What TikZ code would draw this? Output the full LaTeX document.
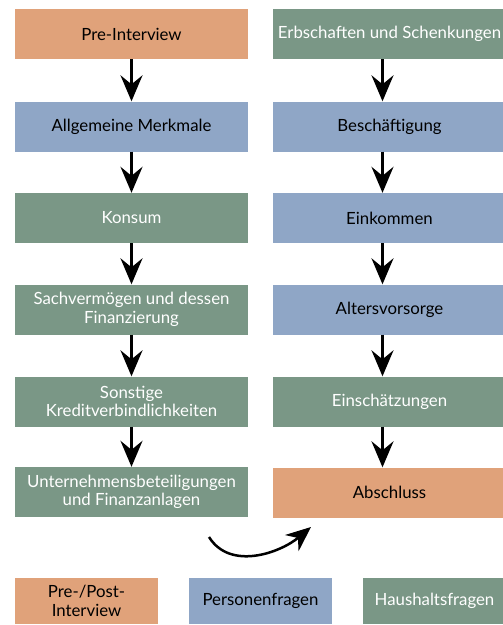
\documentclass[tikz,border=0pt]{standalone}
\usepackage{fontspec}
\setmainfont{Lato}
\usetikzlibrary{arrows.meta}

\definecolor{prepost}{RGB}{224,162,122}
\definecolor{person}{RGB}{143,166,198}
\definecolor{haushalt}{RGB}{122,151,134}

\begin{document}
\begin{tikzpicture}[x=1pt,y=-1pt]
    \tikzstyle{box}=[rectangle,inner sep=0,minimum width=233,minimum height=50,align=center,font=\fontsize{16.8}{18.5}\selectfont]
    \tikzstyle{legbox}=[box,minimum width=143,minimum height=46]
    \tikzstyle{ppbox}=[fill=prepost,text=black]
    \tikzstyle{pbox}=[fill=person,text=black]
    \tikzstyle{hbox}=[fill=haushalt,text=white]
    \tikzstyle{flow}=[line width=2.5pt,-{Stealth[length=26pt,width=22pt,inset=9pt]}]

    \useasboundingbox (0,0) rectangle (503,625);

    % left column
    \node[box,ppbox] (pre) at (131.5,34) {Pre-Interview};
    \node[box,pbox] (allg) at (131.5,126.5) {Allgemeine Merkmale};
    \node[box,hbox] (konsum) at (131.5,218) {Konsum};
    \node[box,hbox] (sach) at (131.5,309.5) {Sachvermögen und dessen\\Finanzierung};
    \node[box,hbox] (kredit) at (131.5,401.5) {Sonstige\\Kreditverbindlichkeiten};
    \node[box,hbox] (untern) at (131.5,492) {Unternehmensbeteiligungen\\und Finanzanlagen};

    % right column
    \node[box,hbox] (erb) at (389.5,34) {Erbschaften und Schenkungen};
    \node[box,pbox] (besch) at (389.5,126.5) {Beschäftigung};
    \node[box,pbox] (eink) at (389.5,218) {Einkommen};
    \node[box,pbox] (alters) at (389.5,309.5) {Altersvorsorge};
    \node[box,hbox] (einsch) at (389.5,401.5) {Einschätzungen};
    \node[box,ppbox] (abschl) at (389.5,492.5) {Abschluss};

    % arrows left
    \draw[flow] (pre) -- (allg);
    \draw[flow] (allg) -- (konsum);
    \draw[flow] (konsum) -- (sach);
    \draw[flow] (sach) -- (kredit);
    \draw[flow] (kredit) -- (untern);

    % arrows right
    \draw[flow] ([xshift=-7pt]erb.south) -- ([xshift=-7pt]besch.north);
    \draw[flow] ([xshift=-7pt]besch.south) -- ([xshift=-7pt]eink.north);
    \draw[flow] ([xshift=-7pt]eink.south) -- ([xshift=-7pt]alters.north);
    \draw[flow] ([xshift=-7pt]alters.south) -- ([xshift=-7pt]einsch.north);
    \draw[flow] ([xshift=-7pt]einsch.south) -- ([xshift=-7pt]abschl.north);

    % jump from left to right column
    \coordinate (jstart) at (209,537);
    \coordinate (jend) at (311,527);
    \draw[line width=2.5pt,-{Stealth[length=25pt,width=21pt,inset=8pt]}] (jstart) to[out=-58,in=220] (jend);

    % legend
    \node[legbox,ppbox] (legpp) at (86.5,601) {Pre-/Post-\\Interview};
    \node[legbox,pbox] (legp) at (260.5,601) {Personenfragen};
    \node[legbox,hbox] (legh) at (434.5,601) {Haushaltsfragen};
\end{tikzpicture}
\end{document}
